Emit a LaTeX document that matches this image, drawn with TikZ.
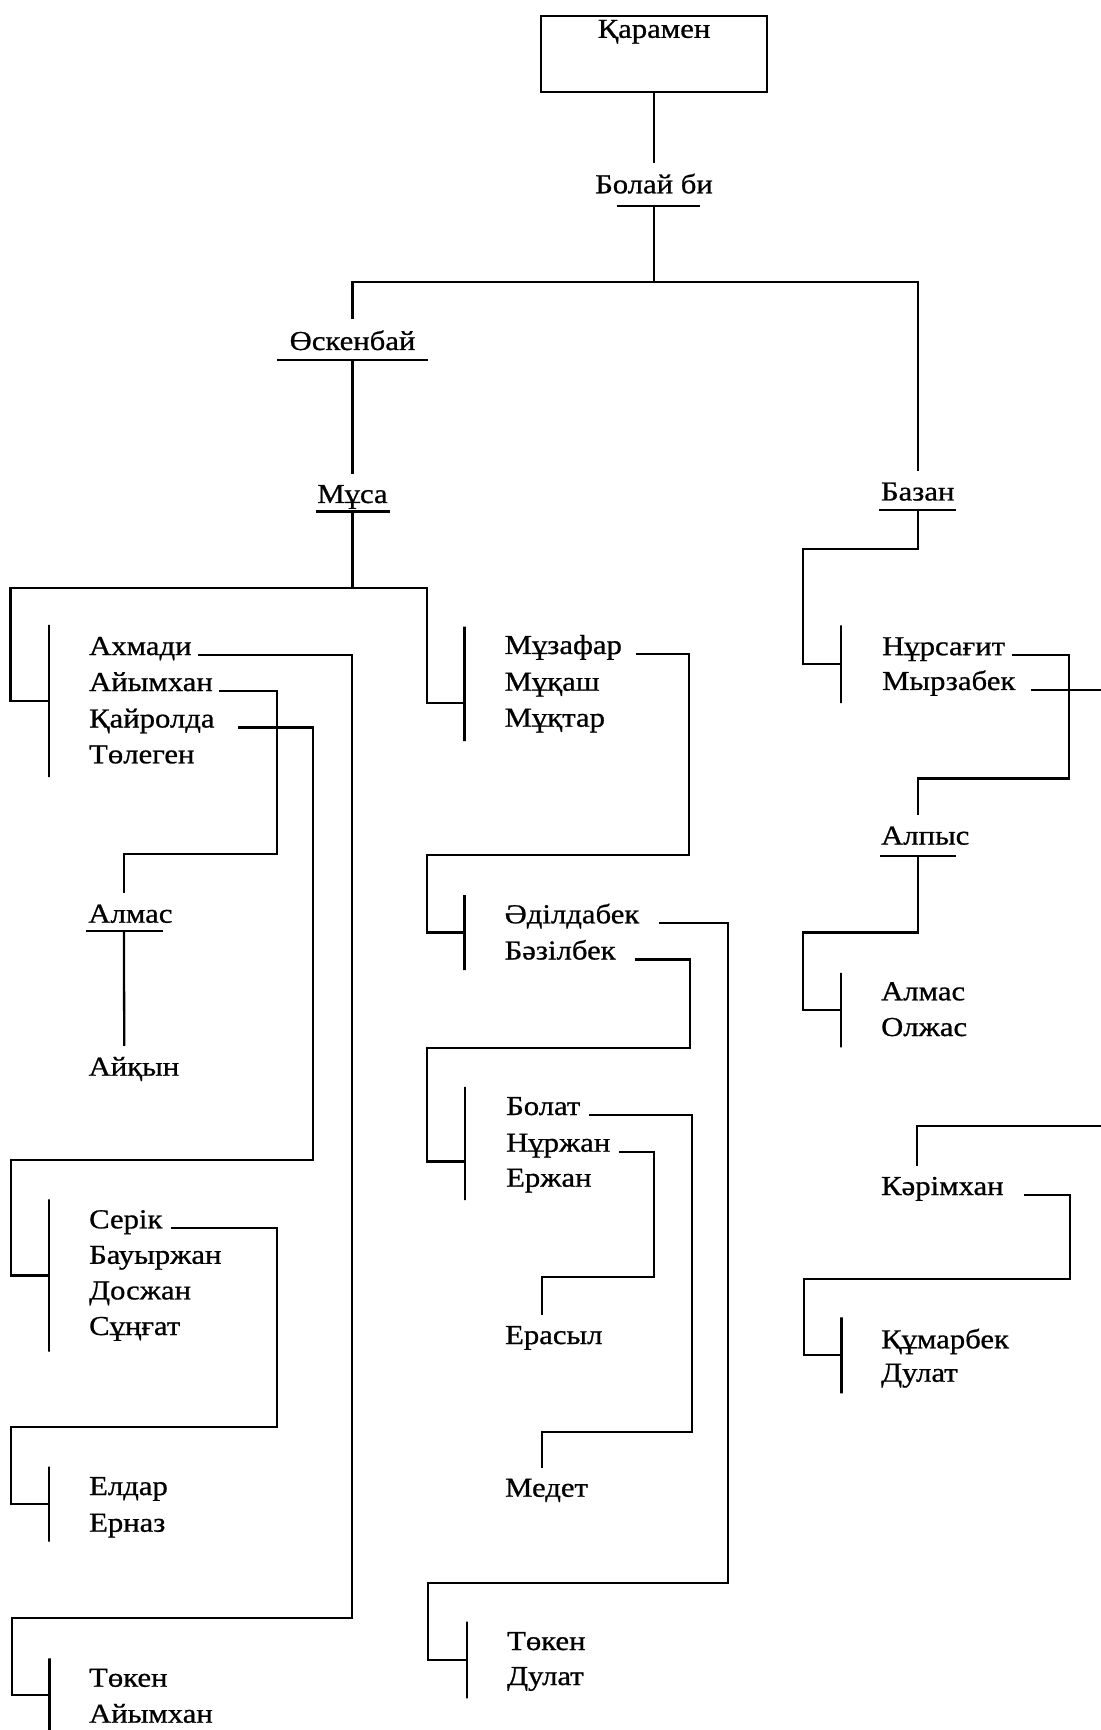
\documentclass[tikz,border=0pt]{standalone}
\usepackage{fontspec}
\newfontfamily\namefont{Liberation Serif}[FakeStretch=1.12, FakeBold=0.8]

\begin{document}
\begin{tikzpicture}[line width=0.65pt,
		person/.style={font=\namefont\fontsize{7.8}{9.4}\selectfont, inner xsep=0pt, inner ysep=1mm, anchor=base west},
		rootbox/.style={draw, font=\namefont\fontsize{7.8}{9.4}\selectfont, anchor=north, minimum width=2.26cm, text height=1.97mm, text depth=5.23mm, inner ysep=0.2mm},
		bracket/.style={draw, inner sep=0pt, minimum width=0pt, minimum height=#1}]
		\useasboundingbox (0,0) rectangle (11.01,-17.30);
		
		% Root box and the first generations
		\node[rootbox] (karamen) at (6.54,-0.15) {Қарамен};
		\node[person, anchor=base] (bolay) at (6.54,-1.933) {Болай би};
		\node[person, anchor=base] (osk) at (3.525,-3.50) {Өскенбай};
		\node[person, anchor=base] (musa) at (3.525,-5.03) {Мұса};
		\node[person, anchor=base] (bazan) at (9.177,-5.005) {Базан};
		
		% Underlines
		\draw ([shift={(-0.37,-0.127)}]bolay.base) -- ++(0.83,0);
		\draw ([shift={(-0.755,-0.097)}]osk.base) -- ++(1.51,0);
		\draw ([shift={(-0.365,-0.086)}]musa.base) -- ++(0.737,0);
		\draw ([shift={(-0.387,-0.092)}]bazan.base) -- ++(0.77,0);
		
		% Brackets of the groups
		\node[bracket=1.52cm] (bL1) at (0.49,-7.01) {};
		\node[bracket=1.524cm] (bL2) at (0.49,-12.755) {};
		\node[bracket=0.75cm] (bL3) at (0.49,-15.042) {};
		\node[bracket=0.734cm] (bL4) at (0.495,-16.95) {};
		\node[bracket=1.143cm] (bM1) at (4.645,-6.839) {};
		\node[bracket=0.75cm] (bM2) at (4.645,-9.325) {};
		\node[bracket=1.133cm] (bM3) at (4.65,-11.434) {};
		\node[bracket=0.766cm] (bM4) at (4.667,-16.60) {};
		\node[bracket=0.777cm] (bR1) at (8.41,-6.642) {};
		\node[bracket=0.746cm] (bR2) at (8.41,-10.101) {};
		\node[bracket=0.76cm] (bR3) at (8.415,-13.553) {};
		
		% Left column
		\node[person] (ahmadi) at (0.88,-6.55) {Ахмади};
		\node[person] (aiymkhan) at (0.88,-6.91) {Айымхан};
		\node[person] (kairolda) at (0.88,-7.275) {Қайролда};
		\node[person] (tolegen) at (0.88,-7.633) {Төлеген};
		\node[person] (almasA) at (0.873,-9.227) {Алмас};
		\node[person] (aikyn) at (0.875,-10.757) {Айқын};
		\node[person] (serik) at (0.88,-12.283) {Серік};
		\node[person] (bauyrzhan) at (0.88,-12.638) {Бауыржан};
		\node[person] (doszhan) at (0.88,-12.994) {Досжан};
		\node[person] (sungat) at (0.88,-13.35) {Сұңғат};
		\node[person] (eldar) at (0.88,-14.95) {Елдар};
		\node[person] (ernaz) at (0.88,-15.317) {Ерназ};
		\node[person] (tokenA) at (0.88,-16.867) {Төкен};
		\node[person] (aiymkhanB) at (0.88,-17.227) {Айымхан};
		\draw ([shift={(-0.013,-0.083)}]almasA.base west) -- ++(0.767,0);
		
		% Middle column
		\node[person] (muzafar) at (5.035,-6.54) {Мұзафар};
		\node[person] (mukash) at (5.035,-6.907) {Мұқаш};
		\node[person] (muktar) at (5.035,-7.267) {Мұқтар};
		\node[person] (adildabek) at (5.035,-9.233) {Әділдабек};
		\node[person] (bazilbek) at (5.035,-9.595) {Бәзілбек};
		\node[person] (bolat) at (5.05,-11.15) {Болат};
		\node[person] (nurzhan) at (5.05,-11.517) {Нұржан};
		\node[person] (erzhan) at (5.05,-11.867) {Ержан};
		\node[person] (erasyl) at (5.04,-13.44) {Ерасыл};
		\node[person] (medet) at (5.04,-14.967) {Медет};
		\node[person] (tokenB) at (5.06,-16.50) {Төкен};
		\node[person] (dulatA) at (5.06,-16.85) {Дулат};
		
		% Right column
		\node[person] (nursagit) at (8.81,-6.552) {Нұрсағит};
		\node[person] (myrzabek) at (8.81,-6.90) {Мырзабек};
		\node[person] (alpys) at (8.80,-8.446) {Алпыс};
		\node[person] (almasB) at (8.80,-10.003) {Алмас};
		\node[person] (olzhas) at (8.80,-10.36) {Олжас};
		\node[person] (kerimkhan) at (8.80,-11.95) {Кәрімхан};
		\node[person] (kumarbek) at (8.80,-13.483) {Құмарбек};
		\node[person] (dulatB) at (8.80,-13.817) {Дулат};
		\draw ([shift={(0,-0.114)}]alpys.base west) -- ++(0.76,0);
		\coordinate (redge) at (11.01,-6.9);
		\coordinate (redge2) at (11.01,-11.257);
		
		% Top of the tree
		\draw (karamen.south) -- (bolay.north);
		\draw ([yshift=-1.27mm]bolay.base) -- (6.54,-2.82) coordinate (fork);
		\draw (osk.north) |- (fork) -| (bazan.north);
		\draw ([yshift=-0.97mm]osk.base) -- (musa.north);
		\draw ([yshift=-0.86mm]musa.base) -- (3.525,-5.88);
		\draw (bL1) -| (0.105,-5.88) -- (4.27,-5.88) |- ([yshift=-1.9mm]bM1.center);
		\draw ([yshift=-0.92mm]bazan.base) |- (8.033,-5.488) |- (bR1);
		
		% Left column links
		\draw ([xshift=0.5mm]ahmadi.base east) -| (3.52,-16.183) -- (0.117,-16.183) |- (bL4);
		\draw ([xshift=0.5mm]aiymkhan.base east) -| (2.77,-8.54) -| ([xshift=3.67mm]almasA.north west);
		\draw ([shift={(0.367,-0.083)}]almasA.base west) -- ([xshift=3.67mm]aikyn.north west);
		\draw ([xshift=2.2mm]kairolda.base east) -| (3.13,-11.60) -- (0.107,-11.60) |- (bL2);
		\draw ([xshift=0.7mm]serik.base east) -| (2.767,-14.273) -- (0.11,-14.273) |- (bL3);
		
		% Middle column links
		\draw ([xshift=1.3mm]muzafar.base east) -| (6.89,-8.55) -- (4.273,-8.55) |- (bM2);
		\draw ([xshift=1.9mm]adildabek.base east) -| (7.28,-15.833) -- (4.283,-15.833) |- (bM4);
		\draw ([xshift=1.8mm]bazilbek.base east) -| (6.90,-10.483) -- (4.273,-10.483) |- ([yshift=-1.8mm]bM3.center);
		\draw ([xshift=0.8mm]bolat.base east) -| (6.917,-14.317) -| ([xshift=3.77mm]medet.north west);
		\draw ([xshift=0.8mm]nurzhan.base east) -| (6.543,-12.767) -| ([xshift=3.77mm]erasyl.north west);
		
		% Right column links
		\draw ([xshift=0.6mm]nursagit.base east) -| (10.693,-7.784) -| ([xshift=3.77mm]alpys.north west);
		\draw ([shift={(0.377,-0.114)}]alpys.base west) |- (8.033,-9.326) |- (bR2);
		\draw ([xshift=1.5mm]myrzabek.base east) -- (myrzabek.base -| redge);
		\draw (redge2) -| ([xshift=3.73mm]kerimkhan.north west);
		\draw ([xshift=1.9mm]kerimkhan.base east) -| (10.70,-12.793) -- (8.04,-12.793) |- (bR3);
		
	\end{tikzpicture}
\end{document}
